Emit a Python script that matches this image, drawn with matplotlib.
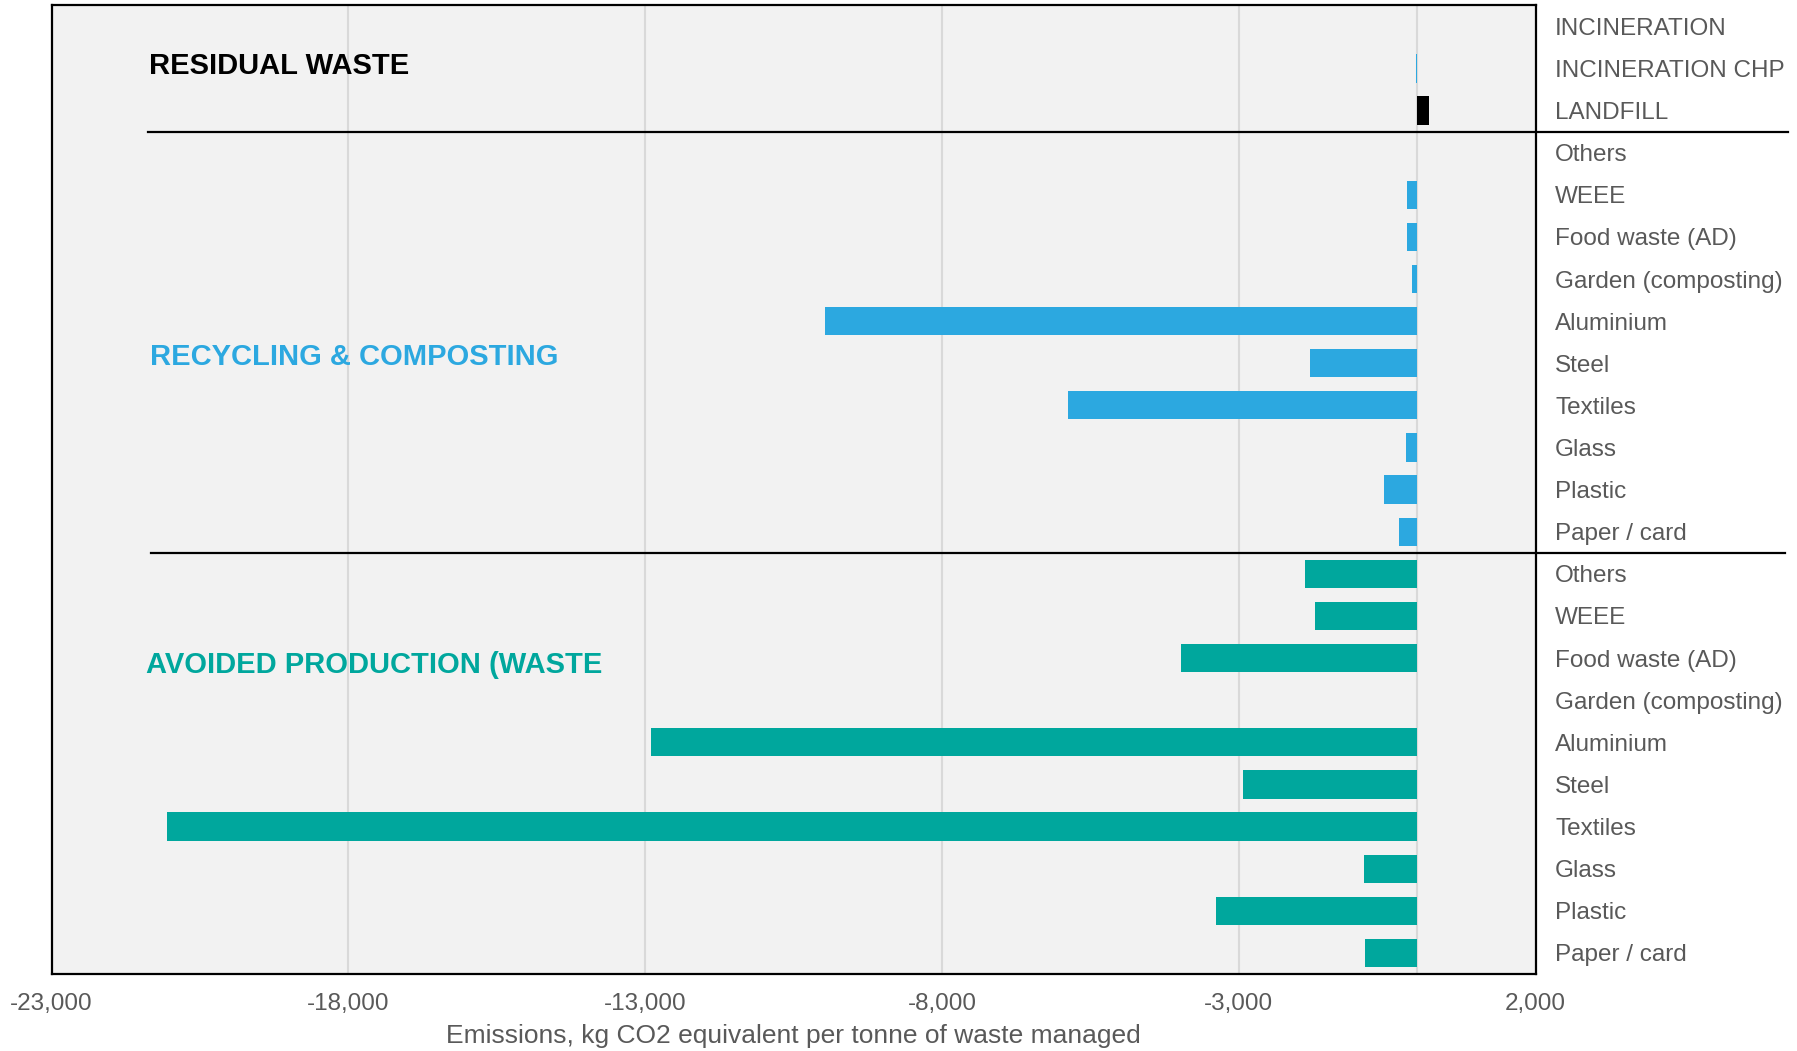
import numpy as np
import matplotlib
matplotlib.use("Agg")
import matplotlib.pyplot as plt
import matplotlib.transforms as mtransforms

plt.rcParams['font.family'] = ['Liberation Sans', 'DejaVu Sans']

# row labels, top to bottom
residual_labels = ["INCINERATION", "INCINERATION CHP", "LANDFILL"]
material_labels = ["Others", "WEEE", "Food waste (AD)", "Garden (composting)",
                   "Aluminium", "Steel", "Textiles", "Glass", "Plastic", "Paper / card"]

# kg CO2e per tonne
residual_values = [0, -15, 200]
recycling_values = [0, -160, -160, -80, -9970, -1800, -5880, -190, -560, -300]
avoided_values = [-1890, -1725, -3980, 0, -12900, -2925, -21050, -885, -3390, -870]

section_titles = ["RESIDUAL WASTE", "RECYCLING & COMPOSTING", "AVOIDED PRODUCTION (WASTE"]

blue = "#2ca8e0"
teal = "#00a79d"
grey_txt = "#595959"

labels = residual_labels + material_labels + material_labels
values = residual_values + recycling_values + avoided_values
colors = [blue, blue, "black"] + [blue] * len(recycling_values) + [teal] * len(avoided_values)
y = np.arange(len(labels))

fig = plt.figure(figsize=(17.97, 10.51), dpi=100)
ax = fig.add_axes([0.0287, 0.0733, 0.8259, 0.9217])
ax.set_facecolor("#f2f2f2")

ax.barh(y, values, height=0.67, color=colors, zorder=3)

ax.set_xlim(-23000, 2000)
ax.set_ylim(len(labels) - 0.5, -0.5)
ax.set_xticks(np.arange(-23000, 2001, 5000))
ax.set_xticklabels([f"{v:,}" for v in range(-23000, 2001, 5000)])
for gx in [-18000, -13000, -8000, -3000, 0]:
    ax.axvline(gx, color="#d9d9d9", lw=1.5, zorder=1)

ax.yaxis.tick_right()
ax.set_yticks(y)
ax.set_yticklabels(labels)
ax.tick_params(axis="y", length=0, pad=14, labelsize=17.5, labelcolor=grey_txt)
ax.tick_params(axis="x", length=0, pad=14, labelsize=17.5, labelcolor=grey_txt)
ax.set_xlabel("Emissions, kg CO2 equivalent per tonne of waste managed",
              fontsize=19, color=grey_txt, labelpad=6)

for sp in ax.spines.values():
    sp.set_color("black")
    sp.set_linewidth(1.6)

# group separators running into the label column
trans = mtransforms.blended_transform_factory(ax.transAxes, ax.transData)
ax.plot([0.065, 1.17], [2.5, 2.5], color="black", lw=1.6, transform=trans, clip_on=False, zorder=4)
ax.plot([0.067, 1.168], [12.5, 12.5], color="black", lw=1.6, transform=trans, clip_on=False, zorder=4)

ax.text(0.0656, 0.95, section_titles[0], transform=trans, fontsize=21,
        fontweight="bold", color="black", va="center")
ax.text(0.0664, 7.85, section_titles[1], transform=trans, fontsize=21,
        fontweight="bold", color=blue, va="center")
ax.text(0.0633, 15.16, section_titles[2], transform=trans, fontsize=21,
        fontweight="bold", color=teal, va="center")

fig.savefig("out.png", dpi=100)
